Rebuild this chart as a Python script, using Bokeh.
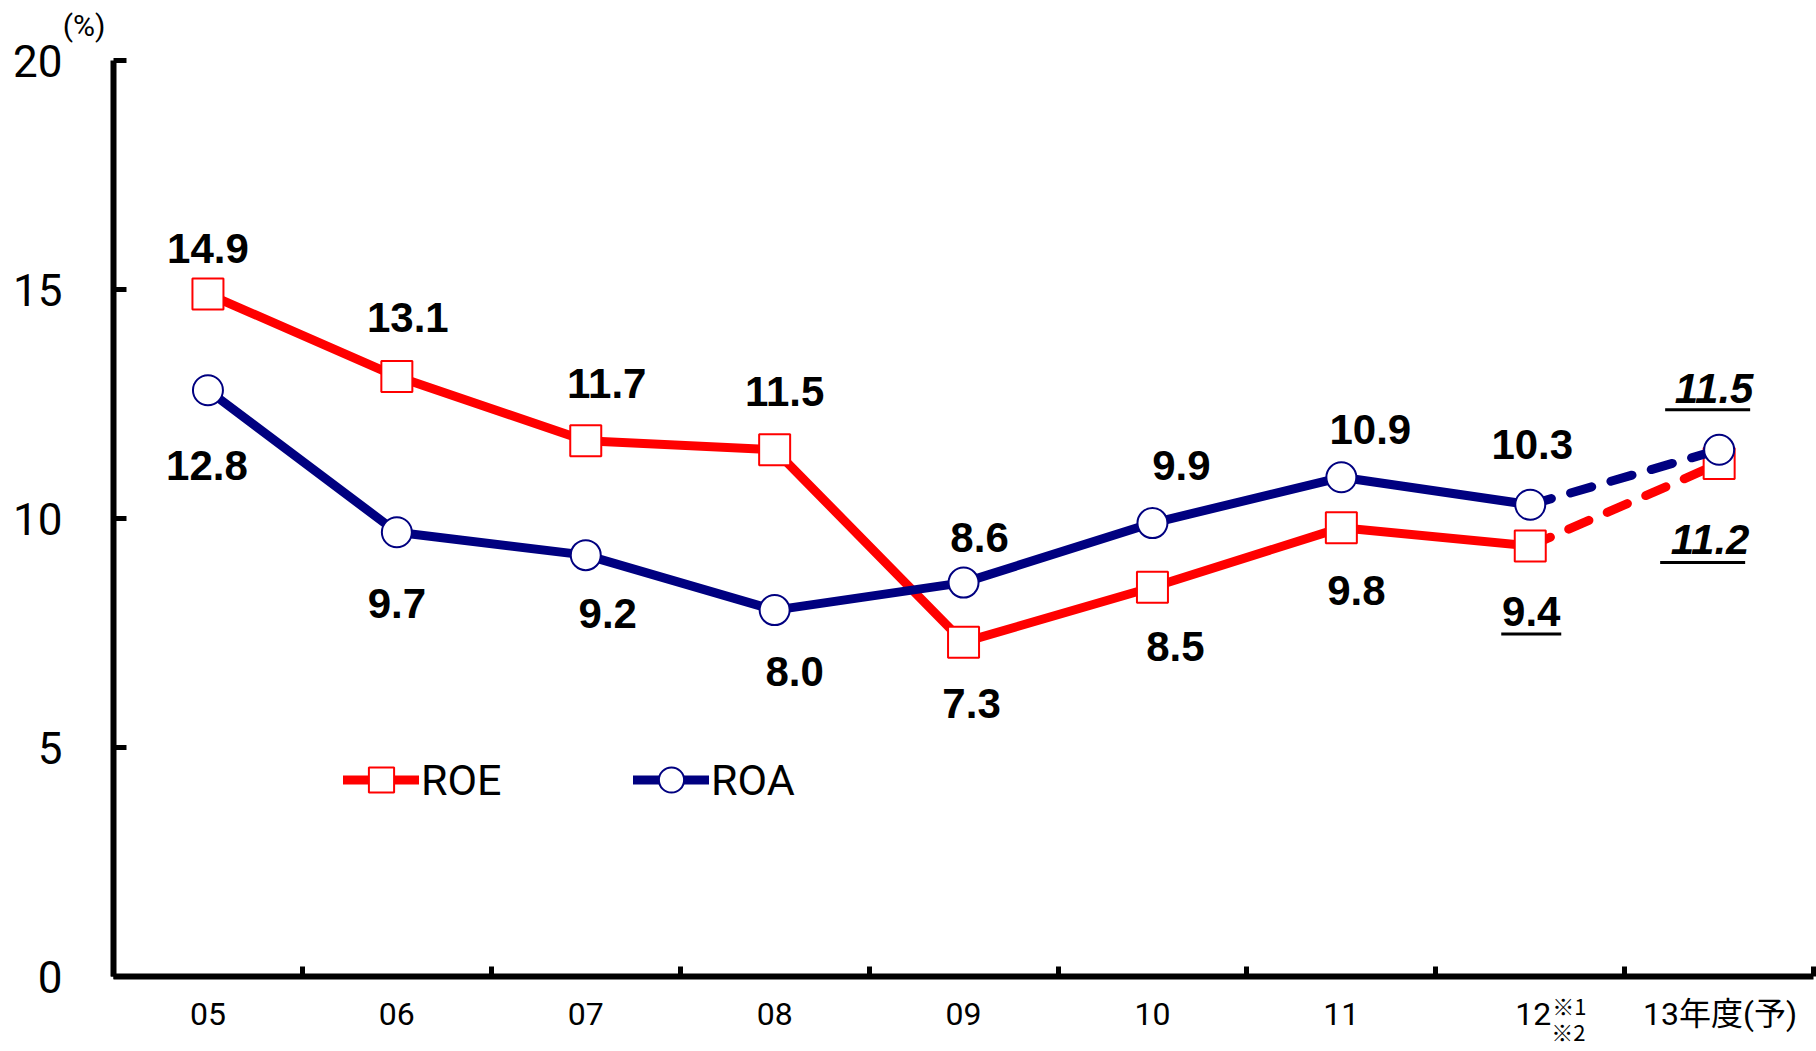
from bokeh.plotting import figure
from bokeh.models import Range1d, FixedTicker, Label, Legend, LegendItem, ColumnDataSource, LinearAxis
from bokeh.embed import file_html
from bokeh.resources import INLINE
from bokeh.core.properties import value

# ---------------- data ----------------
categories = ["05", "06", "07", "08", "09", "10", "11", "12", "13年度(予)"]
roe = [14.9, 13.1, 11.7, 11.5, 7.3, 8.5, 9.8, 9.4, 11.2]
roa = [12.8, 9.7, 9.2, 8.0, 8.6, 9.9, 10.9, 10.3, 11.5]
y_ticks = [0, 5, 10, 15, 20]
notes = ["※1", "※2"]
unit_label = "(%)"
series_names = ["ROE", "ROA"]

# ---------------- style ----------------
RED = "#FF0000"
NAVY = "#000080"
FIG_W, FIG_H = 1816, 1046
AX_LEFT, AX_TOP = 113, 60          # pixel position of the axes' origin corner / top
CAT_PX = 188.9
Y_MAX = 20
PPY = 45.8
X_START = -AX_LEFT / CAT_PX
X_END = X_START + FIG_W / CAT_PX
Y_TOP = Y_MAX + AX_TOP / PPY
Y_BOTTOM = Y_TOP - FIG_H / PPY

# label offsets (pixels, +dy = down) relative to markers
roe_dx = [0, 11, 21, 10, 8, 23, 15, 1, -9]
roe_dy = [-46, -59, -57, -58, 61, 59, 63, 66, 76]
roa_dx = [-1, 0, 22, 20, 16, 29, 29, 2, -5]
roa_dy = [75, 71, 58, 61, -45, -58, -48, -60, -61]
italic_idx = 8          # forecast labels are italic
# underlines: (series, index, dx0, dx1, dy)
underlines = [("roe", 7, -29, 31, 88), ("roa", 8, -54, 31, -40), ("roe", 8, -59, 26, 99)]
# category label offsets (dx px, dy px below axis)
cat_dx = [0, 0, 0, 0, 0, 0, 0, 3, 1]
cat_dy = 37
# note offsets relative to the "12" category centre
note_off = [(39, 28), (38, 54)]

n = len(categories)
xc = [i + 0.5 for i in range(n)]

p = figure(frame_width=FIG_W, frame_height=FIG_H,
           x_range=Range1d(X_START, X_END), y_range=Range1d(Y_BOTTOM, Y_TOP),
           x_axis_location=None, y_axis_location=None,
           output_backend="svg", toolbar_location=None,
           min_border=0, min_border_left=0, min_border_right=0, min_border_top=0, min_border_bottom=0)
p.outline_line_color = None
p.xgrid.visible = False
p.ygrid.visible = False
p.background_fill_color = "white"

# y axis
yax = LinearAxis(fixed_location=0, bounds=(0, Y_MAX), ticker=FixedTicker(ticks=y_ticks))
yax.axis_line_width = 6
yax.axis_line_color = "black"
yax.major_tick_in = 13
yax.major_tick_out = 0
yax.major_tick_line_width = 5
yax.minor_tick_line_color = None
yax.major_label_text_font = "Roboto"
yax.major_label_text_font_size = "44px"
yax.major_label_text_color = "black"
yax.major_label_standoff = 51
p.add_layout(yax, "left")

# x axis (category boundary ticks only)
xax = LinearAxis(fixed_location=0, bounds=(0, n), ticker=FixedTicker(ticks=list(range(n + 1))))
xax.axis_line_width = 6
xax.axis_line_color = "black"
xax.major_tick_in = 10
xax.major_tick_out = 0
xax.major_tick_line_width = 5
xax.minor_tick_line_color = None
xax.major_label_text_color = None
xax.major_label_text_font_size = "1px"
p.add_layout(xax, "below")

def dxd(px):
    return px / CAT_PX

def dyd(px):
    return px / PPY

# ---------------- series ----------------
roe_solid = p.line(xc[:n - 1], roe[:n - 1], line_color=RED, line_width=9, line_join="round", line_cap="round")
p.line(xc[n - 2:], roe[n - 2:], line_color=RED, line_width=9, line_cap="round", line_dash="22 20")
roe_mk = p.scatter(xc, roe, marker="square", size=31, fill_color="white", line_color=RED, line_width=2)

roa_solid = p.line(xc[:n - 1], roa[:n - 1], line_color=NAVY, line_width=9, line_join="round", line_cap="round")
p.line(xc[n - 2:], roa[n - 2:], line_color=NAVY, line_width=9, line_cap="round", line_dash="22 20")
roa_mk = p.scatter(xc, roa, marker="circle", size=30, fill_color="white", line_color=NAVY, line_width=2)

# ---------------- data labels ----------------
def label_src(vals, dx, dy, idxs):
    return ColumnDataSource(dict(
        x=[xc[i] + dxd(dx[i]) for i in idxs],
        y=[vals[i] - dyd(dy[i]) for i in idxs],
        t=[f"{vals[i]:.1f}" for i in idxs]))

normal_idx = [i for i in range(n) if i != italic_idx]
for vals, dx, dy in ((roe, roe_dx, roe_dy), (roa, roa_dx, roa_dy)):
    p.text("x", "y", text="t", source=label_src(vals, dx, dy, normal_idx),
           text_font=value("Liberation Sans"), text_font_style="bold", text_font_size="42px",
           text_align="center", text_baseline="middle", text_color="black")
    p.text("x", "y", text="t", source=label_src(vals, dx, dy, [italic_idx]),
           text_font=value("Liberation Sans"), text_font_style="bold italic", text_font_size="42px",
           text_align="center", text_baseline="middle", text_color="black")

ser = {"roe": roe, "roa": roa}
p.segment(x0=[xc[i] + dxd(a) for s, i, a, b, d in underlines],
          x1=[xc[i] + dxd(b) for s, i, a, b, d in underlines],
          y0=[ser[s][i] - dyd(d) for s, i, a, b, d in underlines],
          y1=[ser[s][i] - dyd(d) for s, i, a, b, d in underlines],
          line_color="black", line_width=3)

# ---------------- category labels ----------------
for i, c in enumerate(categories):
    p.add_layout(Label(x=xc[i] + dxd(cat_dx[i]), y=-dyd(cat_dy), text=c,
                       text_font="Roboto, 'Noto Sans CJK JP'",
                       text_font_size="32px", text_align="center", text_baseline="middle", text_color="black"))
for t, (ndx, ndy) in zip(notes, note_off):
    p.add_layout(Label(x=xc[n - 2] + dxd(ndx), y=-dyd(ndy), text=t, text_font="Noto Sans CJK JP",
                       text_font_size="22px", text_align="center", text_baseline="middle", text_color="black"))
p.add_layout(Label(x=-dxd(29.5), y=Y_MAX + dyd(35), text=unit_label, text_font="Roboto",
                   text_font_size="30px", text_align="center", text_baseline="middle", text_color="black"))

# ---------------- legends ----------------
for name, rends, loc in ((series_names[0], [roe_solid, roe_mk], (343, 235)),
                         (series_names[1], [roa_solid, roa_mk], (633, 235))):
    lg = Legend(items=[LegendItem(label=name, renderers=rends)], location=loc,
                glyph_width=76, glyph_height=63, label_standoff=2, padding=0, margin=0, spacing=0,
                border_line_color=None, background_fill_alpha=0,
                label_text_font="Roboto", label_text_font_size="43px", label_text_color="black")
    p.add_layout(lg, "center")

open("out.html", "w").write(file_html(p, INLINE))
